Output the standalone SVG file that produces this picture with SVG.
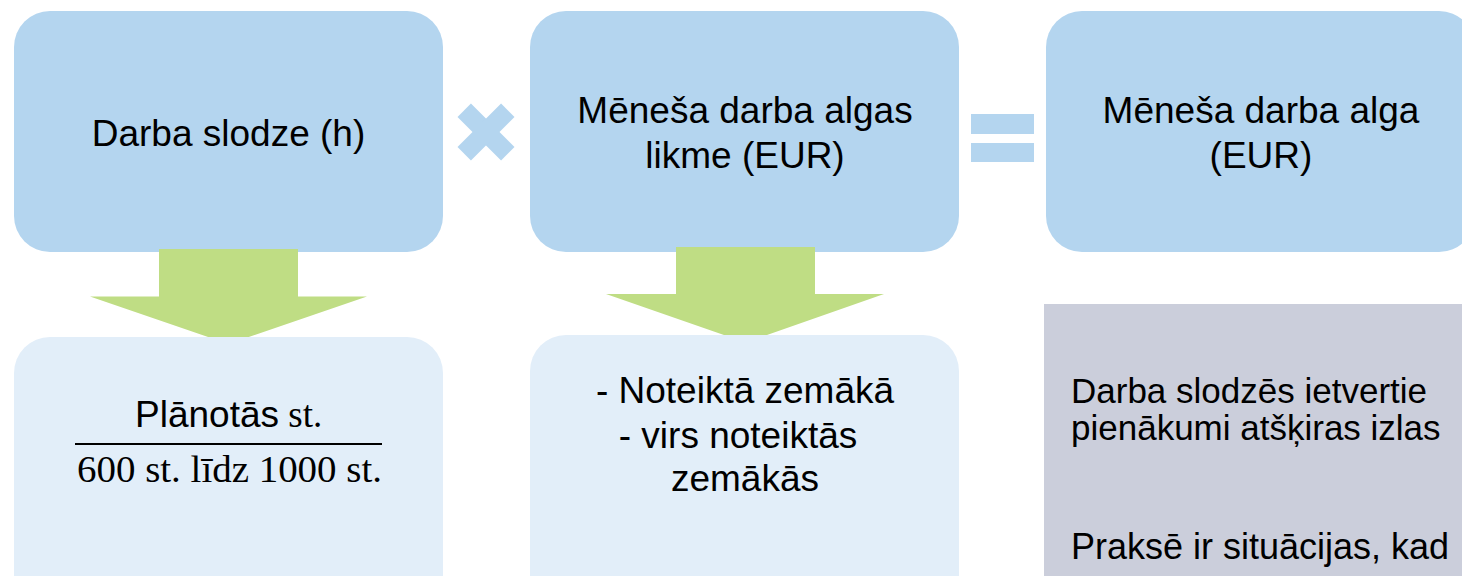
<svg xmlns="http://www.w3.org/2000/svg" width="1462" height="576" viewBox="0 0 1462 576">
<style>
.top{fill:#B4D5EF}
.bot{fill:#E2EEF9}
.arr{fill:#BFDD84}
.op{fill:#B4D5EF}
.t{font-family:"Liberation Sans",Arial,sans-serif;font-size:37px;fill:#000;text-anchor:middle}
.tl{font-family:"Liberation Sans",Arial,sans-serif;font-size:36px;fill:#000}
.m{font-family:"Liberation Serif","Times New Roman",serif;font-size:37px;fill:#000}
</style>
<rect width="1462" height="576" fill="#fff"/>
<g id="box-slodze">
<rect class="top" x="14" y="11" width="429" height="241" rx="36"/>
<text class="t" x="228.5" y="146">Darba slodze (h)</text>
</g>
<g id="box-likme">
<rect class="top" x="530" y="11" width="429" height="241" rx="36"/>
<text class="t" x="745" y="123">Mēneša darba algas</text>
<text class="t" x="745" y="168">likme (EUR)</text>
</g>
<g id="box-alga">
<rect class="top" x="1046" y="11" width="429" height="241" rx="36"/>
<text class="t" x="1261" y="123">Mēneša darba alga</text>
<text class="t" x="1261" y="168">(EUR)</text>
</g>
<g id="op-times">
<rect class="op" x="455.2" y="122.5" width="61.6" height="19" transform="rotate(45 486 132)"/>
<rect class="op" x="455.2" y="122.5" width="61.6" height="19" transform="rotate(-45 486 132)"/>
</g>
<g id="op-equals">
<rect class="op" x="971" y="114" width="63" height="20"/>
<rect class="op" x="971" y="143" width="63" height="19"/>
</g>
<g id="connectors">
<polygon class="arr" points="159,249 298,249 298,296.5 367,296.5 228.5,344 90,296.5 159,296.5"/>
<polygon class="arr" points="676,247 815,247 815,294 884,294 745.5,342.5 606,294 676,294"/>
</g>
<g id="box-stundas">
<rect class="bot" x="14" y="337" width="429" height="280" rx="36"/>
<text x="135" y="427"><tspan class="tl" style="font-size:37px">Plānotās</tspan><tspan class="m"> st.</tspan></text>
<rect x="75" y="443" width="307" height="2" fill="#000"/>
<text class="m" x="77" y="482" textLength="305" lengthAdjust="spacingAndGlyphs">600 st. līdz 1000 st.</text>
</g>
<g id="box-zemaka">
<rect class="bot" x="530" y="335" width="429" height="280" rx="36"/>
<text class="t" x="745" y="403">- Noteiktā zemākā</text>
<text class="t" x="738" y="448">- virs noteiktās</text>
<text class="t" x="745" y="491">zemākās</text>
</g>
<g id="box-piezime">
<rect x="1044" y="304" width="440" height="290" fill="#CBCEDB"/>
<text class="tl" x="1071" y="403" style="font-size:35px">Darba slodzēs ietvertie</text>
<text class="tl" x="1071" y="440" style="font-size:35px">pienākumi atšķiras izlas</text>
<text class="tl" x="1071" y="559">Praksē ir situācijas, kad</text>
</g>
</svg>
